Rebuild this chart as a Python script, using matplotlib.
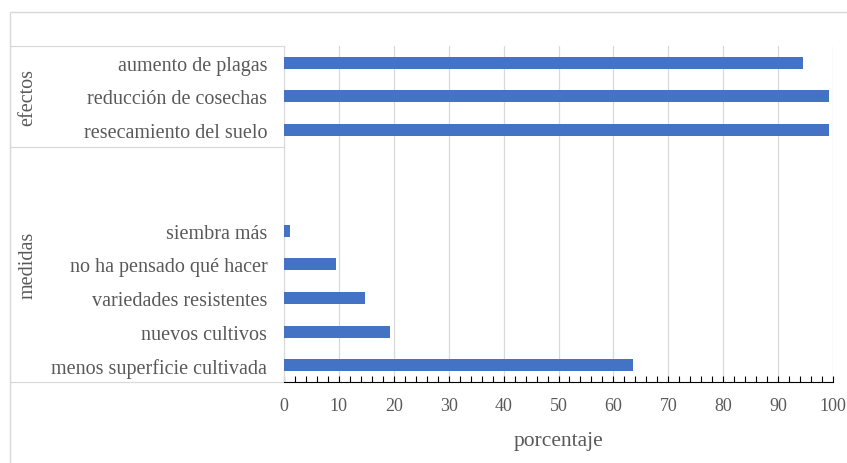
import numpy as np
import matplotlib
matplotlib.use('Agg')
import matplotlib.pyplot as plt
from matplotlib.patches import Rectangle
from matplotlib.ticker import MultipleLocator

#datos
grupos = ['efectos', 'medidas']
efectos = ['aumento de plagas', 'reducción de cosechas', 'resecamiento del suelo']
efectos_val = [94.5, 99.2, 99.2]
medidas = ['', '', 'siembra más', 'no ha pensado qué hacer', 'variedades resistentes',
           'nuevos cultivos', 'menos superficie cultivada']
medidas_val = [np.nan, np.nan, 1.1, 9.5, 14.8, 19.3, 63.5]

categorias = efectos + medidas
valores = efectos_val + medidas_val
gris = '#595959'
linea = '#D9D9D9'

plt.rcParams['font.family'] = ['Liberation Serif', 'DejaVu Serif']

fig = plt.figure(figsize=(8.47, 4.64), dpi=100)
ax = fig.add_axes([284/847, 81/464, 549/847, 336/464])

y = np.arange(len(categorias))
ax.barh(y, valores, height=0.36, color='#4472C4', zorder=3)

ax.set_ylim(len(categorias) - 0.5, -0.5)
ax.set_xlim(0, 100)
ax.set_yticks(y)
ax.set_yticklabels(categorias, fontsize=14.5, color=gris)
ax.tick_params(axis='y', length=0, pad=12)

ax.xaxis.set_major_locator(MultipleLocator(10))
ax.xaxis.set_minor_locator(MultipleLocator(2))
ax.tick_params(axis='x', which='both', direction='in', length=4, width=0.8,
               color='black', labelsize=13, labelcolor=gris, pad=11)
ax.grid(axis='x', which='major', color=linea, lw=0.9, zorder=0)
ax.set_xlabel('porcentaje', fontsize=15.5, color=gris, labelpad=12)

for s in ['top', 'right']:
    ax.spines[s].set_visible(False)
ax.spines['left'].set_color(linea)
ax.spines['bottom'].set_color('black')

#lineas de los grupos
tr = ax.get_yaxis_transform()
x0 = (10 - 284) / 549
limites = [-0.5, len(efectos) - 0.5, len(categorias) - 0.5]
for yl in limites:
    ax.plot([x0, 0], [yl, yl], color=linea, lw=0.9, transform=tr, clip_on=False)

centros = [(len(efectos) - 1) / 2, len(efectos) + (len(medidas) - 1) / 2]
for g, c in zip(grupos, centros):
    ax.text((28 - 284) / 549, c, g, rotation=90, ha='center', va='center',
            fontsize=14.5, color=gris, transform=tr)

#borde del grafico
fig.patches.append(Rectangle((10/847, -0.1), 1.2, 1.1 - 13/464, fill=False,
                             edgecolor=linea, lw=1, transform=fig.transFigure))

plt.savefig('out.png')
plt.close('all')
